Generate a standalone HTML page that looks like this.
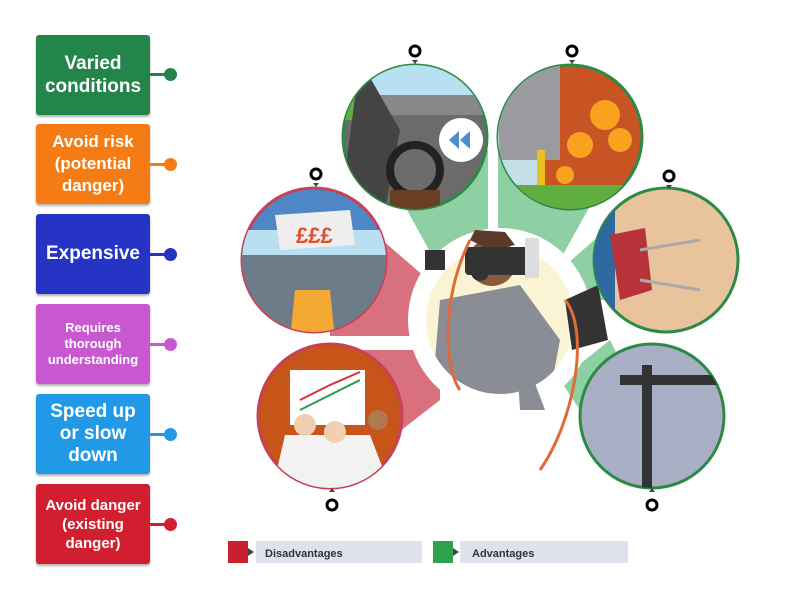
<!DOCTYPE html>
<html><head><meta charset="utf-8"><style>
body{margin:0;width:800px;height:600px;background:#fff;overflow:hidden;position:relative;font-family:"Liberation Sans",sans-serif}
.b{position:absolute;left:36px;width:114px;height:80px;border-radius:3px;color:#fff;font-weight:bold;display:flex;align-items:center;justify-content:center;text-align:center;box-shadow:0 2px 2px rgba(0,0,0,.3)}
.l{position:absolute;left:150px;width:18px;height:3px}
.d{position:absolute;left:164px;width:13px;height:13px;border-radius:50%}
svg{position:absolute;left:0;top:0}
</style></head><body>
<div class="b" style="top:35px;background:#23854a;font-size:19px;line-height:23px">Varied<br>conditions</div>
<div class="l" style="top:73px;background:#23854a"></div><div class="d" style="top:68px;background:#23854a"></div>
<div class="b" style="top:124px;background:#f57c15;font-size:17px;line-height:22px">Avoid risk<br>(potential<br>danger)</div>
<div class="l" style="top:163px;background:#f57c15"></div><div class="d" style="top:158px;background:#f57c15"></div>
<div class="b" style="top:214px;background:#2534c4;font-size:19px">Expensive</div>
<div class="l" style="top:253px;background:#2534c4"></div><div class="d" style="top:248px;background:#2534c4"></div>
<div class="b" style="top:304px;background:#c858d0;font-size:13px;line-height:16px">Requires<br>thorough<br>understanding</div>
<div class="l" style="top:343px;background:#c858d0"></div><div class="d" style="top:338px;background:#c858d0"></div>
<div class="b" style="top:394px;background:#2299e6;font-size:19px;line-height:22px">Speed up<br>or slow<br>down</div>
<div class="l" style="top:433px;background:#2299e6"></div><div class="d" style="top:428px;background:#2299e6"></div>
<div class="b" style="top:484px;background:#d21f30;font-size:15px;line-height:19px">Avoid danger<br>(existing<br>danger)</div>
<div class="l" style="top:523px;background:#d21f30"></div><div class="d" style="top:518px;background:#d21f30"></div>

<svg width="800" height="600">
<defs>
<clipPath id="c1"><circle cx="415" cy="137" r="72"/></clipPath>
<clipPath id="c2"><circle cx="570" cy="137" r="72"/></clipPath>
<clipPath id="c3"><circle cx="314" cy="260" r="72"/></clipPath>
<clipPath id="c4"><circle cx="666" cy="260" r="72"/></clipPath>
<clipPath id="c5"><circle cx="330" cy="416" r="72"/></clipPath>
<clipPath id="c6"><circle cx="652" cy="416" r="72"/></clipPath>
<clipPath id="cc"><circle cx="500" cy="320" r="74"/></clipPath>
</defs>
<!-- wedges -->
<polygon points="330,195 440,290 440,336 330,336" fill="#d9707e"/>
<polygon points="340,350 440,350 440,400 350,470" fill="#d9707e"/>
<polygon points="385,170 488,150 488,290 440,270" fill="#8ecfa3"/>
<polygon points="498,150 610,170 560,260 498,290" fill="#8ecfa3"/>
<polygon points="560,270 640,200 660,300 590,300" fill="#8ecfa3"/>
<polygon points="560,380 610,340 650,420 600,440" fill="#8ecfa3"/>
<circle cx="500" cy="320" r="92" fill="#fff"/>
<circle cx="500" cy="320" r="74" fill="#fbf4d4"/>
<!-- person -->
<g clip-path="url(#cc)">
<path d="M440,300 L520,285 L560,340 L545,420 L430,420 Z" fill="#8b8d96"/>
</g>
<path d="M515,330 L545,410 L520,410 Z" fill="#8b8d96"/>
<circle cx="492" cy="262" r="24" fill="#8a5a3a"/>
<path d="M470,240 L475,230 L505,232 L515,245 L490,250 Z" fill="#5a3a2a"/>
<rect x="465" y="247" width="65" height="28" rx="4" fill="#333"/>
<rect x="425" y="250" width="20" height="20" fill="#333"/>
<rect x="525" y="238" width="14" height="40" fill="#ddd"/>
<circle cx="480" cy="272" r="9" fill="#333"/>
<path d="M565,300 L598,285 L608,340 L572,350 Z" fill="#333"/>
<path d="M470,240 C440,300 445,370 460,390 M565,300 C590,330 575,420 540,470" stroke="#e06a3a" stroke-width="3" fill="none"/>
<!-- circles -->
<g stroke-width="3">
<circle cx="415" cy="137" r="72" fill="#6b6b6b" stroke="#2d8a46"/>
<circle cx="570" cy="137" r="72" fill="#c75422" stroke="#2d8a46"/>
<circle cx="314" cy="260" r="72" fill="#4f86c6" stroke="#c84157"/>
<circle cx="666" cy="260" r="72" fill="#e9c39b" stroke="#2d8a46"/>
<circle cx="330" cy="416" r="72" fill="#c75418" stroke="#c84157"/>
<circle cx="652" cy="416" r="72" fill="#a8afc4" stroke="#2d8a46"/>
</g>
<g clip-path="url(#c1)">
<rect x="340" y="60" width="150" height="40" fill="#b8e0f0"/>
<rect x="340" y="95" width="150" height="20" fill="#888"/>
<rect x="340" y="100" width="30" height="20" fill="#5fae3f"/>
<path d="M360,60 L400,130 L385,210 L340,210 Z" fill="#444"/>
<circle cx="415" cy="170" r="25" fill="none" stroke="#222" stroke-width="8"/>
<rect x="390" y="190" width="50" height="25" fill="#6a3e20"/>
<circle cx="461" cy="140" r="22" fill="#fff"/>
<polygon points="449,140 459,131 459,149" fill="#4a8fd4"/><polygon points="460,140 470,131 470,149" fill="#4a8fd4"/>
</g>
<g clip-path="url(#c2)">
<rect x="495" y="60" width="45" height="160" fill="#c5dfe8"/>
<path d="M495,60 L560,60 L560,160 L500,160 Z" fill="#9a9aa0"/>
<rect x="500" y="185" width="140" height="30" fill="#5fae3f"/>
<circle cx="605" cy="115" r="15" fill="#f9a21f"/><circle cx="580" cy="145" r="13" fill="#f9a21f"/><circle cx="620" cy="140" r="12" fill="#f9a21f"/><circle cx="565" cy="175" r="9" fill="#f9a21f"/>
<rect x="537" y="150" width="8" height="35" fill="#e8c020"/>
</g>
<g clip-path="url(#c3)">
<rect x="240" y="250" width="150" height="90" fill="#6e7b88"/>
<rect x="240" y="230" width="150" height="25" fill="#b8e0f0"/>
<polygon points="295,290 330,290 335,340 290,340" fill="#f5a935"/>
<path d="M275,215 L350,210 L355,245 L280,250 Z" fill="#eee"/>
<text x="296" y="243" font-family="Liberation Sans" font-size="22" font-weight="bold" fill="#e0502a">£££</text>
</g>
<g clip-path="url(#c5)">
<rect x="290" y="370" width="75" height="55" fill="#fff"/>
<path d="M300,410 L330,395 L360,380" stroke="#2a9a50" fill="none" stroke-width="2"/>
<path d="M300,400 L330,385 L360,372" stroke="#d83030" fill="none" stroke-width="2"/>
<path d="M270,500 L285,435 L370,435 L395,500 Z" fill="#f2f2f2"/>
<circle cx="305" cy="425" r="11" fill="#f0d0b0"/><circle cx="335" cy="432" r="11" fill="#f0d0b0"/><circle cx="378" cy="420" r="10" fill="#b07a50"/>
</g>
<g clip-path="url(#c4)">
<rect x="590" y="190" width="25" height="150" fill="#2e6aa0"/>
<path d="M610,235 L645,228 L652,290 L620,300 Z" fill="#b8323a"/>
<line x1="640" y1="250" x2="700" y2="240" stroke="#aaa" stroke-width="3"/>
<line x1="640" y1="280" x2="700" y2="290" stroke="#aaa" stroke-width="3"/>
</g>
<g clip-path="url(#c6)">
<rect x="620" y="375" width="100" height="10" fill="#333"/>
<rect x="642" y="365" width="10" height="130" fill="#333"/>
</g>
<!-- pins -->
<g fill="#444"><polygon points="412,60 418,60 415,64"/><polygon points="569,60 575,60 572,64"/><polygon points="313,183 319,183 316,187"/><polygon points="666,185 672,185 669,189"/><polygon points="329,492 335,492 332,488"/><polygon points="649,492 655,492 652,488"/></g>
<g fill="#fff" stroke="#000" stroke-width="3">
<circle cx="415" cy="51" r="5"/><circle cx="572" cy="51" r="5"/><circle cx="316" cy="174" r="5"/>
<circle cx="669" cy="176" r="5"/><circle cx="332" cy="505" r="5"/><circle cx="652" cy="505" r="5"/>
</g>
<!-- legend -->
<rect x="228" y="541" width="20" height="22" fill="#c8202e"/>
<polygon points="248,548 254,552 248,556" fill="#444"/>
<rect x="256" y="541" width="166" height="22" fill="#dfe1ec"/>
<text x="265" y="557" font-family="Liberation Sans" font-size="11" font-weight="bold" fill="#333">Disadvantages</text>
<rect x="433" y="541" width="20" height="22" fill="#2ca24c"/>
<polygon points="453,548 459,552 453,556" fill="#444"/>
<rect x="460" y="541" width="168" height="22" fill="#dfe1ec"/>
<text x="472" y="557" font-family="Liberation Sans" font-size="11" font-weight="bold" fill="#333">Advantages</text>
</svg>
</body></html>
